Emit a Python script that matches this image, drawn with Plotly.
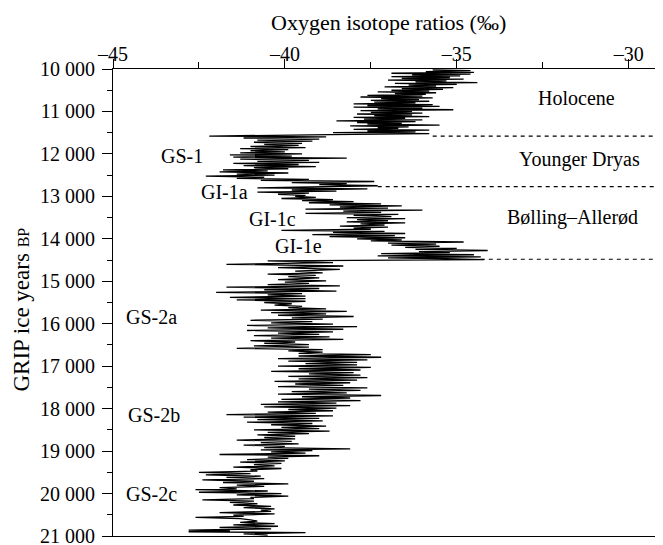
import plotly.graph_objects as go

# ---- data (GRIP ice core, d18O vs ice years BP) ----
holocene_age = [10020, 10040, 10060, 10080, 10100, 10120, 10140, 10160, 10180, 10200,
                10220, 10240, 10260, 10280, 10300, 10320, 10340, 10360, 10380, 10400,
                10420, 10440, 10460, 10480, 10500, 10520, 10540, 10560, 10580, 10600,
                10620, 10640, 10660, 10680, 10700, 10720, 10740, 10760, 10780, 10800,
                10820, 10840, 10860, 10880, 10900, 10920, 10940, 10960, 10980, 11000,
                11020, 11040, 11060, 11080, 11100, 11120, 11140, 11160, 11180, 11200,
                11220, 11240, 11260, 11280, 11300, 11320, 11340, 11360, 11380, 11400,
                11420, 11440, 11460, 11480, 11500, 11520, 11545]
holocene_d18o = [-35.7, -34.6, -35.9, -34.5, -36.9, -34.6, -36.3, -34.9, -36.9, -35.2,
                 -36.6, -34.8, -37.0, -35.3, -36.2, -34.4, -36.8, -35.0, -36.4, -35.6,
                 -37.1, -35.1, -36.6, -35.4, -36.9, -35.8, -37.3, -35.6, -36.8, -35.9,
                 -37.6, -36.0, -37.8, -35.7, -37.2, -36.1, -37.5, -35.8, -37.4, -36.2,
                 -38.0, -35.7, -37.6, -35.5, -38.0, -36.0, -37.3, -35.1, -37.8, -36.3,
                 -37.5, -36.0, -37.9, -36.3, -37.4, -35.8, -38.0, -36.5, -37.7, -36.0,
                 -38.5, -36.2, -37.9, -36.6, -37.6, -35.5, -38.1, -36.4, -37.3, -36.7,
                 -38.0, -35.8, -37.6, -36.2, -38.6, -35.8, -38.7]

yd_age = [11580, 11600, 11625, 11650, 11675, 11700, 11725, 11750, 11775, 11800,
          11825, 11850, 11875, 11900, 11925, 11950, 11975, 12000, 12025, 12050,
          12075, 12100, 12125, 12150, 12175, 12200, 12225, 12250, 12275, 12300,
          12325, 12350, 12375, 12400, 12425, 12450, 12475, 12500, 12525, 12550,
          12575, 12600, 12625, 12650, 12675, 12700, 12725, 12750, 12775]
yd_d18o = [-42.2, -38.8, -41.2, -39.0, -40.8, -39.2, -40.9, -39.5, -40.6, -39.6,
           -41.0, -39.4, -41.3, -39.9, -41.0, -40.0, -41.3, -39.5, -41.6, -39.8,
           -41.5, -38.2, -41.3, -39.3, -40.8, -39.0, -41.5, -39.6, -41.2, -39.1,
           -40.9, -39.9, -41.8, -40.5, -41.9, -39.9, -41.4, -40.3, -42.3, -40.6,
           -41.4, -39.3, -40.7, -37.4, -39.8, -38.2, -39.0, -37.3, -38.6]

ba_age = [12800, 12825, 12850, 12875, 12900, 12925, 12950, 12975, 13000, 13025,
          13050, 13075, 13100, 13125, 13150, 13175, 13200, 13225, 13250, 13275,
          13300, 13325, 13350, 13375, 13400, 13425, 13450, 13475, 13500, 13525,
          13550, 13575, 13600, 13625, 13650, 13675, 13700, 13725, 13750, 13775,
          13800, 13825, 13850, 13875, 13900, 13925, 13950, 13975, 14000, 14025,
          14050, 14075, 14100, 14125, 14150, 14175, 14200, 14225, 14250, 14275,
          14300, 14325, 14350, 14375, 14400, 14425, 14450, 14470, 14490]
ba_d18o = [-40.8, -37.6, -39.8, -38.5, -40.8, -39.3, -40.2, -39.4, -39.7, -39.1,
           -40.1, -38.6, -39.5, -38.0, -39.3, -37.2, -38.7, -36.6, -38.4, -37.0,
           -39.4, -36.0, -38.3, -37.2, -39.4, -36.7, -38.0, -36.9, -38.2, -36.5,
           -37.9, -37.0, -38.2, -36.5, -37.8, -37.1, -38.4, -37.0, -38.0, -37.5,
           -40.1, -37.1, -38.6, -36.5, -39.2, -36.8, -38.7, -36.5, -37.9, -36.6,
           -37.5, -34.8, -37.0, -35.6, -36.9, -35.5, -36.5, -35.0, -36.2, -34.1,
           -36.1, -35.2, -37.2, -34.5, -37.3, -34.3, -37.0, -35.3, -34.2]

gs2_age = [14520, 14560, 14600, 14640, 14680, 14720, 14760, 14800, 14830, 14860,
           14890, 14920, 14960, 14990, 15020, 15050, 15080, 15110, 15140, 15170,
           15200, 15230, 15260, 15290, 15320, 15350, 15380, 15410, 15440, 15470,
           15500, 15530, 15560, 15590, 15620, 15650, 15680, 15710, 15740, 15770,
           15800, 15830, 15860, 15890, 15920, 15950, 15980, 16010, 16040, 16070,
           16100, 16130, 16160, 16190, 16220, 16250, 16280, 16310, 16340, 16370,
           16400, 16430, 16460, 16490, 16520, 16550, 16580, 16610, 16640, 16670,
           16700, 16730, 16760, 16790, 16820, 16850, 16880, 16910, 16940, 16970,
           17000, 17030, 17060, 17090, 17120, 17150, 17180, 17210, 17240, 17270,
           17300, 17330, 17360, 17390, 17420, 17450, 17480, 17510, 17540, 17570,
           17600, 17630, 17660, 17690, 17720, 17750, 17780, 17810, 17840, 17870,
           17900, 17930, 17960, 17990, 18020, 18050, 18080, 18110, 18140, 18170,
           18200, 18230, 18260, 18290, 18320, 18350, 18380, 18410, 18440, 18470,
           18500, 18530, 18560, 18590, 18620, 18650, 18680, 18710, 18740, 18770,
           18800, 18830, 18860, 18890, 18920, 18950, 18970, 18990, 19020, 19050,
           19080, 19110, 19140, 19170, 19200, 19230, 19260, 19290, 19320, 19350,
           19380, 19410, 19440, 19470, 19500, 19530, 19560, 19590, 19620, 19650,
           19680, 19710, 19740, 19770, 19800, 19830, 19860, 19890, 19910, 19940,
           19970, 20000, 20030, 20060, 20090, 20120, 20150, 20180, 20210, 20240,
           20270, 20300, 20330, 20360, 20390, 20420, 20450, 20480, 20510, 20540,
           20560, 20590, 20620, 20650, 20680, 20710, 20740, 20770, 20800, 20830,
           20860, 20880, 20900, 20920, 20950, 20980]
gs2_d18o = [-40.5, -38.6, -41.7, -38.3, -40.2, -38.4, -39.7, -38.9, -40.5, -39.1,
            -39.9, -39.0, -40.2, -38.8, -40.0, -39.3, -40.5, -38.4, -41.7, -39.0,
            -40.6, -38.5, -42.0, -39.5, -40.5, -39.4, -41.6, -39.4, -41.4, -39.4,
            -40.6, -39.8, -40.3, -39.5, -39.9, -38.8, -40.7, -38.2, -40.4, -38.8,
            -40.2, -38.0, -39.8, -38.9, -41.0, -39.2, -40.4, -38.6, -41.1, -37.9,
            -40.5, -38.3, -41.1, -38.6, -40.2, -39.0, -40.9, -38.7, -40.4, -38.3,
            -41.0, -39.7, -40.6, -39.3, -40.9, -39.3, -41.4, -38.9, -39.9, -38.9,
            -39.6, -37.5, -39.6, -37.2, -40.2, -37.6, -39.9, -37.9, -39.4, -37.9,
            -40.2, -37.5, -39.6, -37.8, -40.4, -38.0, -39.3, -37.8, -39.9, -37.6,
            -39.6, -37.9, -40.3, -38.1, -39.7, -38.3, -40.2, -37.6, -39.3, -37.8,
            -39.8, -38.2, -40.2, -37.2, -39.5, -38.1, -40.1, -37.8, -40.2, -38.5,
            -40.7, -38.1, -40.6, -38.5, -39.9, -38.6, -40.5, -39.1, -41.7, -38.6,
            -41.2, -39.0, -40.8, -38.9, -41.1, -39.2, -40.4, -38.8, -40.1, -39.0,
            -40.9, -38.7, -40.5, -39.3, -40.8, -39.7, -40.6, -39.7, -41.4, -39.8,
            -40.7, -39.6, -41.2, -40.0, -40.6, -38.1, -40.7, -39.2, -40.4, -39.4,
            -41.9, -39.0, -40.5, -39.9, -41.1, -40.0, -41.3, -40.1, -40.9, -40.3,
            -41.5, -40.1, -41.0, -40.8, -42.5, -41.0, -42.3, -40.7, -41.7, -40.6,
            -42.4, -40.9, -41.8, -39.9, -41.4, -40.6, -41.9, -41.4, -42.6, -40.5,
            -42.5, -40.1, -41.4, -39.9, -41.0, -40.9, -42.4, -40.9, -41.6, -40.8,
            -41.5, -40.4, -41.2, -40.3, -40.7, -40.4, -41.9, -40.3, -41.5, -41.2,
            -42.6, -41.3, -41.0, -40.8, -41.3, -40.3, -41.5, -40.2, -41.9, -40.4,
            -42.8, -41.6, -42.8, -39.4, -41.2, -40.5]

boundary_years = [11580, 12770, 14480]          # dashed period boundaries
boundary_start = [-35.7, -37.3, -34.3]          # where each dashed line begins

period_labels = ["Holocene", "Younger Dryas", "Bølling–Allerød"]
period_x = [-31.53, -31.44, -31.62]
period_y = [10680, 12130, 13490]

event_labels = ["GS-1", "GI-1a", "GI-1c", "GI-1e", "GS-2a", "GS-2b", "GS-2c"]
event_x = [-42.99, -41.77, -40.37, -39.59, -43.87, -43.81, -43.87]
event_y = [12060, 12900, 13540, 14170, 15830, 18150, 20020]

x_ticks = [-45, -40, -35, -30]
x_ticktext = ["–45", "–40", "–35", "–30"]
x_minor = [-42.5, -37.5, -32.5]
y_ticks = list(range(10000, 21001, 1000))
y_ticktext = [f"{v // 1000} 000" for v in y_ticks]
y_minor = list(range(10500, 21000, 1000))

x_title = "Oxygen isotope ratios (‰)"
y_title = "GRIP ice years <span style='font-size:16px'>BP</span>"

age = holocene_age + yd_age + ba_age + gs2_age
d18o = holocene_d18o + yd_d18o + ba_d18o + gs2_d18o

FONT = "Liberation Serif"

fig = go.Figure()
fig.add_trace(go.Scatter(x=d18o, y=age, mode="lines",
                         line=dict(color="black", width=1.3),
                         hoverinfo="skip", showlegend=False))

for yr, xs in zip(boundary_years, boundary_start):
    fig.add_shape(type="line", xref="x", yref="y", x0=xs, x1=-29, y0=yr, y1=yr,
                  line=dict(color="black", width=1.1, dash="4px,4px"))

for t, x, y in zip(period_labels + event_labels, period_x + event_x, period_y + event_y):
    fig.add_annotation(x=x, y=y, text=t, showarrow=False,
                       font=dict(family=FONT, size=20, color="black"))

# axis titles
fig.add_annotation(xref="paper", yref="paper", x=0.5, y=1, yanchor="middle",
                   yshift=47, text=x_title, showarrow=False,
                   font=dict(family=FONT, size=22, color="black"))
fig.add_annotation(xref="paper", yref="paper", x=0, y=0.5, xanchor="center",
                   xshift=-92, yshift=-7, textangle=-90, text=y_title, showarrow=False,
                   font=dict(family=FONT, size=23, color="black"))

# the page adds an 8px body margin, so the figure is 8px smaller on each axis
fig.update_layout(
    width=655, height=537,
    margin=dict(l=105, r=0, t=61, b=9),
    paper_bgcolor="white", plot_bgcolor="white",
    font=dict(family=FONT, size=20, color="black"),
    showlegend=False,
    xaxis=dict(
        side="top", range=[-45, -29], showgrid=False, zeroline=False,
        showline=True, linecolor="black", linewidth=1.2, mirror=True,
        tickmode="array", tickvals=x_ticks, ticktext=x_ticktext,
        ticks="outside", ticklen=9, tickwidth=1.2, tickcolor="black",
        ticklabelstandoff=-10,
        minor=dict(tickmode="array", tickvals=x_minor, ticks="outside",
                   ticklen=6, tickwidth=1.2, tickcolor="black", showgrid=False),
        tickfont=dict(family=FONT, size=20),
        automargin=False,
    ),
    yaxis=dict(
        range=[21000, 10000], showgrid=False, zeroline=False,
        showline=True, linecolor="black", linewidth=1.2,
        tickmode="array", tickvals=y_ticks, ticktext=y_ticktext,
        ticks="outside", ticklen=10, tickwidth=1.2, tickcolor="black",
        ticklabelstandoff=3, ticklabeloverflow="allow",
        minor=dict(tickmode="array", tickvals=y_minor, ticks="outside",
                   ticklen=5, tickwidth=1.2, tickcolor="black", showgrid=False),
        tickfont=dict(family=FONT, size=20),
        automargin=False,
    ),
)

fig.write_html("out.html")
